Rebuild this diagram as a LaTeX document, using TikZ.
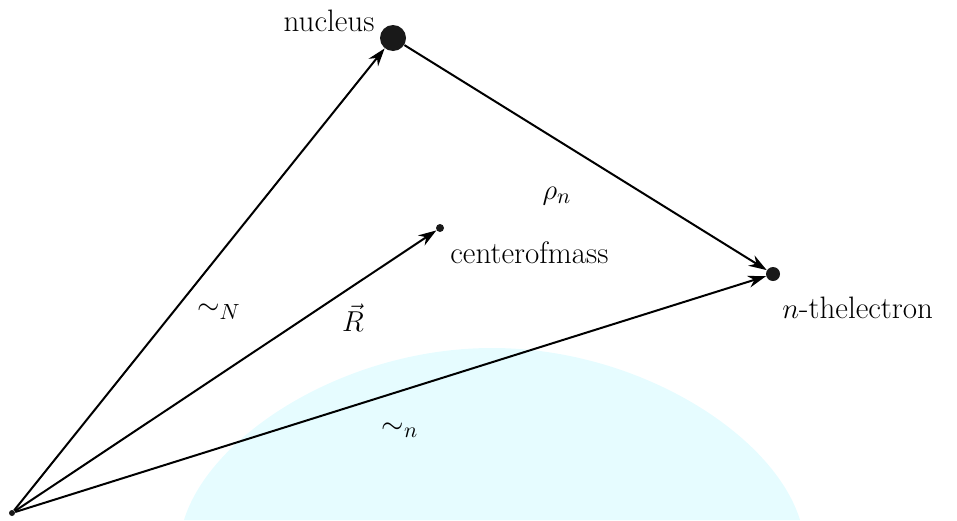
\documentclass[tikz,border=0pt]{standalone}
\usepackage{amsmath}
\usetikzlibrary{arrows.meta, positioning}
\definecolor{domecyan}{RGB}{230,252,255}
\begin{document}
\begin{tikzpicture}[x=0.5pt, y=-0.5pt, >={Stealth[length=9pt, width=6pt]},
    vec/.style={->, line width=1pt},
    dot/.style={circle, fill=black!90, inner sep=0pt},
    lbl/.style={font=\fontsize{15.5}{18}\selectfont, inner sep=0pt}]

    \useasboundingbox (0,0) rectangle (957,520);

    % light dome at the bottom
    \fill[domecyan] (184,520) .. controls (210,435) and (345,348) .. (492,348)
        .. controls (639,348) and (774,435) .. (800,520) -- cycle;

    % Bodies
    \node[dot, minimum size=3pt] (o) at (12,513) {};
    \node[dot, minimum size=13pt] (nuc) at (393,38) {};
    \node[dot, minimum size=4pt] (cm) at (440,228) {};
    \node[dot, minimum size=7pt] (el) at (773,274) {};

    % Labels
    \node[lbl, anchor=base] (nuclbl) at (329,31) {nucleus};
    \node[lbl, anchor=base west] (cmlbl) at (450,263) {centerofmass};
    \node[lbl, anchor=base west] (ellbl) at (782,318) {$n$-thelectron};
    \node[lbl, anchor=base] (rho) at (557,199) {$\rho_n$};
    \node[lbl] (rN) at (219,312) {$\sim_N$};
    \node[lbl] (R) at (353,318) {$\vec{R}$};
    \node[lbl] (rn) at (400,430) {$\sim_n$};

    % Vectors
    \draw[vec] (o) -- (nuc);
    \draw[vec] (o) -- (cm);
    \draw[vec] (o) -- (el);
    \draw[vec] (nuc) -- (el);
\end{tikzpicture}
\end{document}
